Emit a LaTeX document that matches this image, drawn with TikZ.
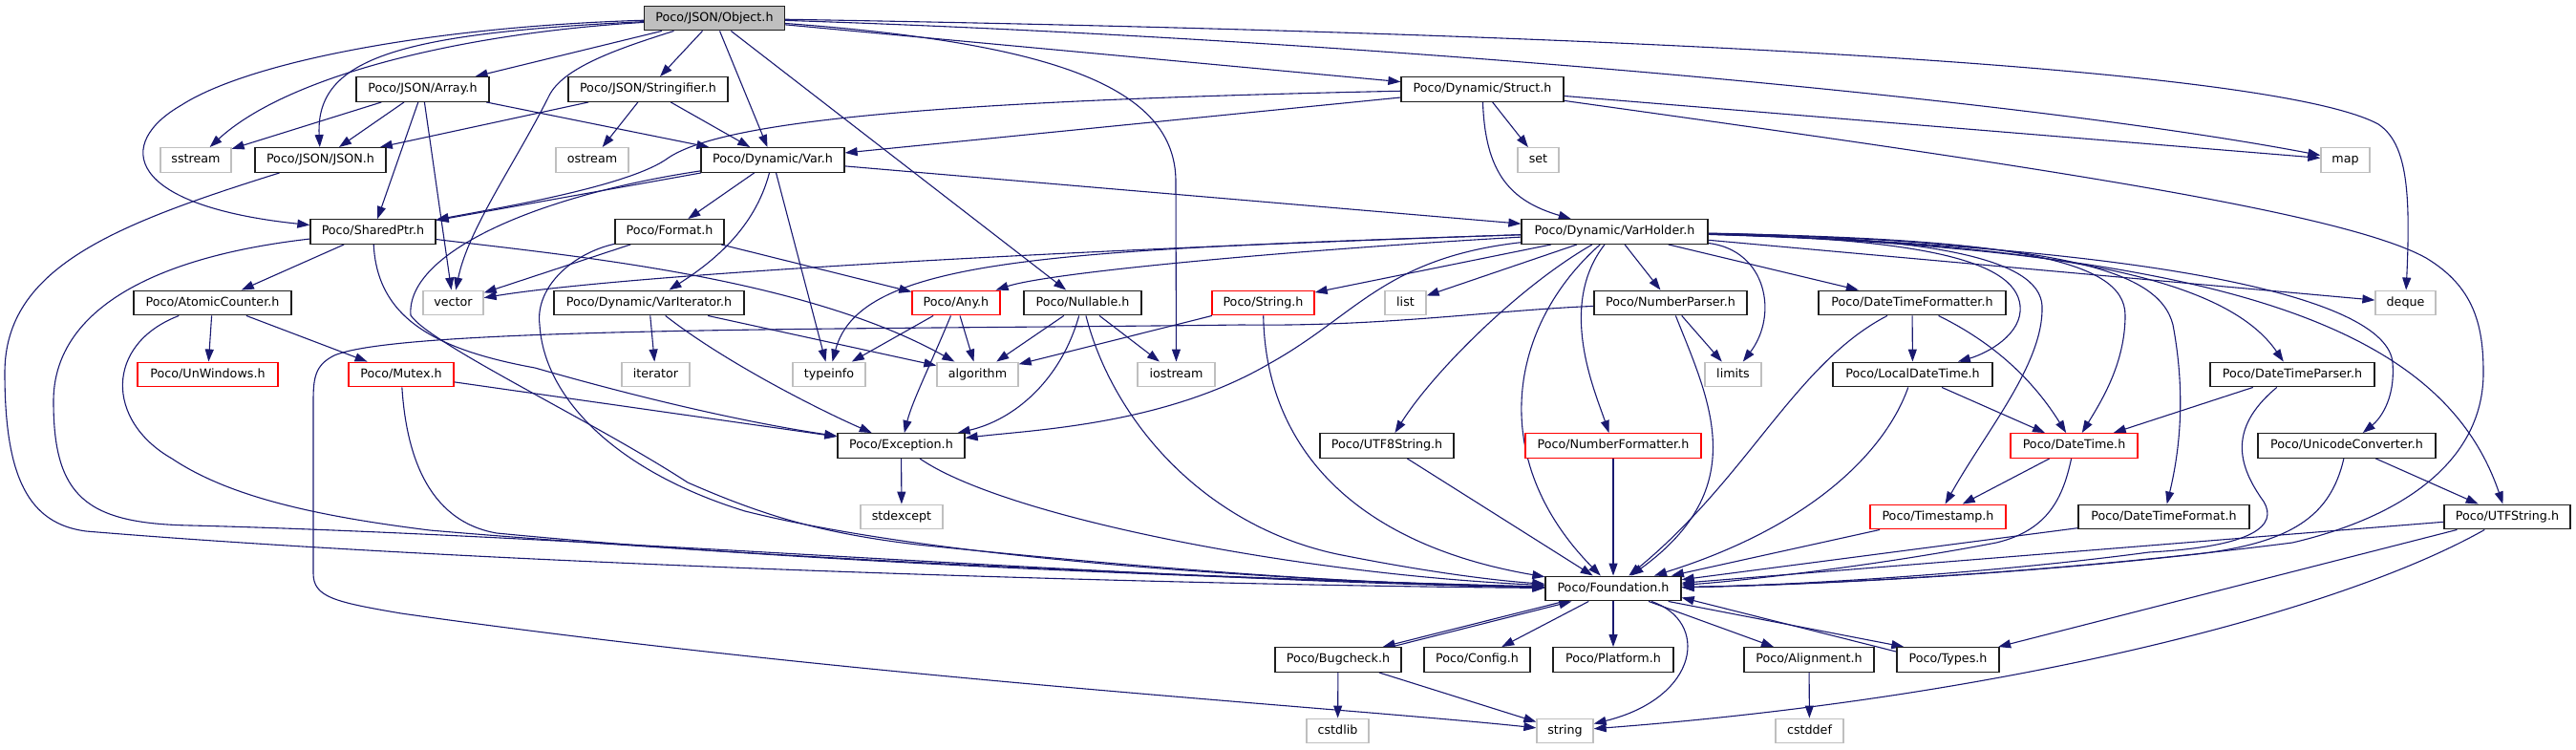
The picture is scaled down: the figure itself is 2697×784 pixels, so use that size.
\documentclass[tikz,border=0pt]{standalone}
\usepackage{fontspec}
\setmainfont{DejaVu Sans}
\usetikzlibrary{arrows.meta,backgrounds}
\definecolor{edgeblue}{RGB}{25,25,112}
\definecolor{rootgray}{RGB}{191,191,191}
\definecolor{sysgray}{RGB}{191,191,191}
\definecolor{hdrborder}{RGB}{30,30,30}
\definecolor{hdrred}{RGB}{255,0,0}
\tikzset{
 hdr/.style={draw=hdrborder, line width=1.3pt, fill=white, minimum height=25.6pt, inner sep=0pt, text=black, font=\fontsize{12.7pt}{15pt}\selectfont, text height=9.4pt, text depth=2.6pt},
 redhdr/.style={hdr, draw=hdrred},
 syshdr/.style={hdr, draw=sysgray},
 roothdr/.style={hdr, fill=rootgray},
 dep/.style={draw=edgeblue, line width=1.1pt, line join=round, -{Triangle[length=13pt,width=9pt]}},
}
\begin{document}
\begin{tikzpicture}[x=1pt,y=-1pt]
\useasboundingbox (0,0) rectangle (2697,784);
% row 1
\node[roothdr,minimum width=147pt] (obj) at (748,19) {Poco/JSON/Object.h};
% row 2
\node[hdr,minimum width=139pt] (arr) at (442.5,93.5) {Poco/JSON/Array.h};
\node[hdr,minimum width=167pt] (str) at (678.5,93.5) {Poco/JSON/Stringifier.h};
\node[hdr,minimum width=170pt] (struct) at (1552,93.5) {Poco/Dynamic/Struct.h};
% row 3
\node[syshdr,minimum width=74pt] (sstream) at (205,167.5) {sstream};
\node[hdr,minimum width=137pt] (json) at (335.5,167.5) {Poco/JSON/JSON.h};
\node[syshdr,minimum width=76pt] (ostream) at (620,167.5) {ostream};
\node[hdr,minimum width=150pt] (var) at (809,167.5) {Poco/Dynamic/Var.h};
\node[syshdr,minimum width=43pt] (set) at (1610.5,167.5) {set};
\node[syshdr,minimum width=51pt] (map) at (2455.5,167.5) {map};
% row 4
\node[hdr,minimum width=131pt] (shared) at (390.5,242.5) {Poco/SharedPtr.h};
\node[hdr,minimum width=114pt] (format) at (701,242.5) {Poco/Format.h};
\node[hdr,minimum width=195pt] (vh) at (1690.5,242.5) {Poco/Dynamic/VarHolder.h};
% row 5
\node[hdr,minimum width=165pt] (atomic) at (222.5,317) {Poco/AtomicCounter.h};
\node[syshdr,minimum width=63pt] (vector) at (474.5,317) {vector};
\node[hdr,minimum width=199pt] (variter) at (679.5,317) {Poco/Dynamic/VarIterator.h};
\node[redhdr,minimum width=92pt] (any) at (1001,317) {Poco/Any.h};
\node[hdr,minimum width=123pt] (nullable) at (1133.5,317) {Poco/Nullable.h};
\node[redhdr,minimum width=107pt] (strh) at (1322.5,317) {Poco/String.h};
\node[syshdr,minimum width=43pt] (list) at (1471.5,317) {list};
\node[hdr,minimum width=160pt] (nparser) at (1749,317) {Poco/NumberParser.h};
\node[hdr,minimum width=196pt] (dtfmtr) at (2002,317) {Poco/DateTimeFormatter.h};
\node[syshdr,minimum width=63pt] (deque) at (2518.5,317) {deque};
% row 6
\node[redhdr,minimum width=147pt] (unwin) at (217.5,392) {Poco/UnWindows.h};
\node[redhdr,minimum width=110pt] (mutex) at (420,392) {Poco/Mutex.h};
\node[syshdr,minimum width=71pt] (iterator) at (686.5,392) {iterator};
\node[syshdr,minimum width=76pt] (typeinfo) at (868,392) {typeinfo};
\node[syshdr,minimum width=85pt] (algorithm) at (1023.5,392) {algorithm};
\node[syshdr,minimum width=81pt] (iostream) at (1231.5,392) {iostream};
\node[syshdr,minimum width=59pt] (limits) at (1814.5,392) {limits};
\node[hdr,minimum width=167pt] (localdt) at (2002.5,392) {Poco/LocalDateTime.h};
\node[hdr,minimum width=172pt] (dtparser) at (2400,392) {Poco/DateTimeParser.h};
% row 7
\node[hdr,minimum width=133pt] (exception) at (943.5,466.5) {Poco/Exception.h};
\node[hdr,minimum width=140pt] (utf8) at (1452,466.5) {Poco/UTF8String.h};
\node[redhdr,minimum width=184pt] (nfmt) at (1689,466.5) {Poco/NumberFormatter.h};
\node[redhdr,minimum width=133pt] (datetime) at (2171.5,466.5) {Poco/DateTime.h};
\node[hdr,minimum width=186pt] (uconv) at (2457,466.5) {Poco/UnicodeConverter.h};
% row 8
\node[syshdr,minimum width=86pt] (stdexcept) at (944,541) {stdexcept};
\node[redhdr,minimum width=142pt] (timestamp) at (2029,541) {Poco/Timestamp.h};
\node[hdr,minimum width=179pt] (dtformat) at (2265.5,541) {Poco/DateTimeFormat.h};
\node[hdr,minimum width=132pt] (utfstring) at (2625,541) {Poco/UTFString.h};
% row 9
\node[hdr,minimum width=142pt] (foundation) at (1689,616) {Poco/Foundation.h};
% row 10
\node[hdr,minimum width=132pt] (bugcheck) at (1401,690.5) {Poco/Bugcheck.h};
\node[hdr,minimum width=111pt] (config) at (1546.5,690.5) {Poco/Config.h};
\node[hdr,minimum width=126pt] (platform) at (1689,690.5) {Poco/Platform.h};
\node[hdr,minimum width=136pt] (alignment) at (1894,690.5) {Poco/Alignment.h};
\node[hdr,minimum width=107pt] (types) at (2039.5,690.5) {Poco/Types.h};
% row 11
\node[syshdr,minimum width=65pt] (cstdlib) at (1400.5,765) {cstdlib};
\node[syshdr,minimum width=59pt] (string) at (1638.5,765) {string};
\node[syshdr,minimum width=71pt] (cstddef) at (1894.5,765) {cstddef};

\begin{scope}[on background layer]
% Object.h
\draw[dep] (obj) -- (arr);
\draw[dep] (obj) -- (str);
\draw[dep] (obj) -- (var);
\draw[dep] (obj) -- (nullable);
\draw[dep] (obj) -- (struct);
\draw[dep] (obj) .. controls (450,28) and (260,65) .. (190,110) .. controls (120,150) and (130,215) .. (shared);
\draw[dep] (obj) .. controls (480,35) and (300,80) .. (sstream);
\draw[dep] (obj) .. controls (420,35) and (330,60) .. (json);
\draw[dep] (obj) .. controls (650,50) and (590,70) .. (575,100) .. controls (540,170) and (490,240) .. (vector);
\draw[dep] (obj) .. controls (1100,45) and (1231,90) .. (1231,190) -- (iostream);
\draw[dep] (obj) .. controls (1400,40) and (2100,100) .. (map);
\draw[dep] (obj) .. controls (1700,35) and (2380,70) .. (2490,130) .. controls (2520,150) and (2524,200) .. (deque);
% Array.h
\draw[dep] (arr) -- (sstream);
\draw[dep] (arr) -- (json);
\draw[dep] (arr) -- (shared);
\draw[dep] (arr) -- (vector);
\draw[dep] (arr) -- (var);
% Stringifier.h
\draw[dep] (str) -- (json);
\draw[dep] (str) -- (ostream);
\draw[dep] (str) -- (var);
% JSON.h
\draw[dep] (json) .. controls (120,235) and (5,280) .. (5,390) .. controls (5,500) and (30,548) .. (90,556) .. controls (500,590) and (1200,612) .. (foundation);
% Struct.h
\draw[dep] (struct) -- (var);
\draw[dep] (struct) -- (set);
\draw[dep] (struct) -- (map);
\draw[dep] (struct) .. controls (1000,105) and (760,125) .. (700,165) .. controls (660,195) and (520,218) .. (shared);
\draw[dep] (struct) .. controls (1555,180) and (1580,210) .. (vh);
\draw[dep] (struct) .. controls (2100,170) and (2450,220) .. (2540,270) .. controls (2590,300) and (2600,340) .. (2600,390) .. controls (2600,480) and (2520,540) .. (2400,568) .. controls (2150,600) and (1900,612) .. (foundation);
% Var.h
\draw[dep] (var) -- (shared);
\draw[dep] (var) -- (format);
\draw[dep] (var) .. controls (790,240) and (745,275) .. (variter);
\draw[dep] (var) -- (typeinfo);
\draw[dep] (var) -- (vh);
\draw[dep] (var) .. controls (560,205) and (425,265) .. (430,330) .. controls (450,360) and (620,440) .. (720,505) .. controls (800,540) and (860,558) .. (960,570) .. controls (1250,600) and (1450,612) .. (foundation);
% SharedPtr.h
\draw[dep] (shared) -- (atomic);
\draw[dep] (shared) .. controls (600,268) and (840,290) .. (algorithm);
\draw[dep] (shared) .. controls (395,330) and (450,365) .. (560,385) .. controls (700,425) and (800,445) .. (exception);
\draw[dep] (shared) .. controls (150,270) and (56,330) .. (56,420) .. controls (56,520) and (90,548) .. (200,550) .. controls (600,560) and (1200,608) .. (foundation);
% AtomicCounter.h
\draw[dep] (atomic) -- (unwin);
\draw[dep] (atomic) -- (mutex);
\draw[dep] (atomic) .. controls (110,360) and (110,440) .. (180,480) .. controls (240,520) and (330,540) .. (450,555) .. controls (800,585) and (1300,606) .. (foundation);
% Mutex.h
\draw[dep] (mutex) -- (exception);
\draw[dep] (mutex) .. controls (425,470) and (445,545) .. (520,558) .. controls (850,590) and (1300,606) .. (foundation);
% Format.h
\draw[dep] (format) -- (vector);
\draw[dep] (format) -- (any);
\draw[dep] (format) .. controls (600,265) and (560,300) .. (565,340) .. controls (570,420) and (650,495) .. (780,535) .. controls (1000,590) and (1400,610) .. (foundation);
% VarIterator.h
\draw[dep] (variter) -- (iterator);
\draw[dep] (variter) -- (algorithm);
\draw[dep] (variter) .. controls (760,380) and (860,430) .. (exception);
% Any.h
\draw[dep] (any) -- (typeinfo);
\draw[dep] (any) -- (algorithm);
\draw[dep] (any) .. controls (975,380) and (955,420) .. (exception);
% Nullable.h
\draw[dep] (nullable) -- (algorithm);
\draw[dep] (nullable) -- (iostream);
\draw[dep] (nullable) .. controls (1110,400) and (1060,440) .. (exception);
\draw[dep] (nullable) .. controls (1165,440) and (1260,550) .. (1400,580) .. controls (1500,600) and (1570,608) .. (foundation);
% String.h
\draw[dep] (strh) -- (algorithm);
\draw[dep] (strh) .. controls (1325,470) and (1420,570) .. (foundation);
% VarHolder.h
\draw[dep] (vh) .. controls (1100,262) and (650,288) .. (vector);
\draw[dep] (vh) .. controls (1100,262) and (900,270) .. (typeinfo);
\draw[dep] (vh) .. controls (1350,262) and (1100,285) .. (any);
\draw[dep] (vh) .. controls (1450,270) and (1420,330) .. (1330,380) .. controls (1220,445) and (1080,450) .. (exception);
\draw[dep] (vh) -- (strh);
\draw[dep] (vh) -- (list);
\draw[dep] (vh) .. controls (1590,300) and (1500,390) .. (utf8);
\draw[dep] (vh) .. controls (1580,340) and (1555,480) .. (foundation);
\draw[dep] (vh) .. controls (1630,320) and (1670,410) .. (nfmt);
\draw[dep] (vh) -- (nparser);
\draw[dep] (vh) .. controls (1850,262) and (1862,330) .. (limits);
\draw[dep] (vh) -- (dtfmtr);
\draw[dep] (vh) .. controls (2000,250) and (2110,270) .. (2115,320) .. controls (2118,350) and (2080,370) .. (localdt);
\draw[dep] (vh) .. controls (2020,248) and (2135,270) .. (2138,320) .. controls (2140,380) and (2080,450) .. (timestamp);
\draw[dep] (vh) .. controls (2100,250) and (2225,270) .. (2225,330) .. controls (2225,380) and (2200,420) .. (datetime);
\draw[dep] (vh) .. controls (2150,252) and (2260,280) .. (2275,340) .. controls (2290,420) and (2280,480) .. (dtformat);
\draw[dep] (vh) .. controls (2150,255) and (2330,290) .. (dtparser);
\draw[dep] (vh) .. controls (2250,258) and (2500,310) .. (2505,380) .. controls (2508,420) and (2490,440) .. (uconv);
\draw[dep] (vh) .. controls (2350,262) and (2560,350) .. (utfstring);
\draw[dep] (vh) -- (deque);
% NumberParser.h
\draw[dep] (nparser) -- (limits);
\draw[dep] (nparser) .. controls (1790,420) and (1835,510) .. (foundation);
\draw[dep] (nparser) .. controls (1560,325) and (1450,342) .. (1300,340) .. controls (900,345) and (420,342) .. (350,372) .. controls (330,382) and (328,395) .. (328,420) -- (328,600) .. controls (328,625) and (350,630) .. (420,642) .. controls (900,710) and (1400,740) .. (string);
% DateTimeFormatter.h
\draw[dep] (dtfmtr) -- (localdt);
\draw[dep] (dtfmtr) .. controls (2090,360) and (2130,400) .. (datetime);
\draw[dep] (dtfmtr) .. controls (1880,380) and (1830,500) .. (foundation);
% LocalDateTime.h
\draw[dep] (localdt) -- (datetime);
\draw[dep] (localdt) .. controls (1975,470) and (1900,550) .. (foundation);
% DateTimeParser.h
\draw[dep] (dtparser) -- (datetime);
\draw[dep] (dtparser) .. controls (2330,450) and (2345,490) .. (2370,525) .. controls (2385,550) and (2360,572) .. (2250,578) .. controls (2100,598) and (1900,612) .. (foundation);
% DateTime.h
\draw[dep] (datetime) -- (timestamp);
\draw[dep] (datetime) .. controls (2160,520) and (2145,555) .. (2090,568) .. controls (1950,595) and (1800,610) .. (foundation);
% simple ones
\draw[dep] (timestamp) -- (foundation);
\draw[dep] (dtformat) -- (foundation);
\draw[dep] (utf8) -- (foundation);
\draw[dep] (nfmt) -- (foundation);
% UnicodeConverter.h
\draw[dep] (uconv) -- (utfstring);
\draw[dep] (uconv) .. controls (2440,540) and (2400,568) .. (2300,580) .. controls (2100,602) and (1900,612) .. (foundation);
% UTFString.h
\draw[dep] (utfstring) -- (foundation);
\draw[dep] (utfstring) -- (types);
\draw[dep] (utfstring) .. controls (2450,640) and (2100,730) .. (string);
% Exception.h
\draw[dep] (exception) -- (stdexcept);
\draw[dep] (exception) .. controls (1050,540) and (1350,600) .. (foundation);
% Foundation.h
\draw[dep] ([xshift=20pt]foundation.south west) -- ([xshift=-20pt]bugcheck.north east);
\draw[dep] ([xshift=-11pt]bugcheck.north east) -- ([xshift=28pt]foundation.south west);
\draw[dep] (foundation) -- (config);
\draw[dep] (foundation) -- (platform);
\draw[dep] (foundation) -- (alignment);
\draw[dep] ([xshift=-14pt]foundation.south east) -- ([xshift=8pt]types.north west);
\draw[dep] ([yshift=-5pt]types.north west) -- ([yshift=4pt]foundation.south east);
\draw[dep] (foundation) .. controls (1790,650) and (1780,730) .. (string);
% Bugcheck.h, Alignment.h
\draw[dep] (bugcheck) -- (cstdlib);
\draw[dep] (bugcheck) -- (string);
\draw[dep] (alignment) -- (cstddef);
\end{scope}
\end{tikzpicture}
\end{document}
